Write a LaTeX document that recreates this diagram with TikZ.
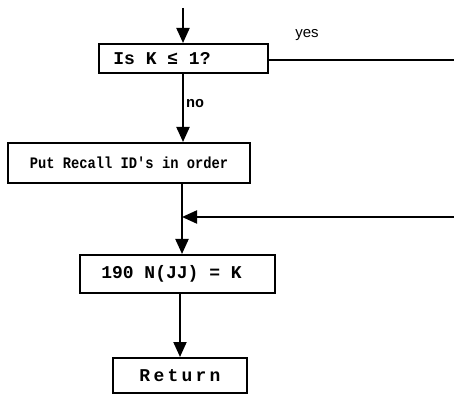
\documentclass[tikz,border=0pt]{standalone}
\usepackage{fontspec}
\usetikzlibrary{arrows.meta}
\newfontfamily\tw{Liberation Mono}[BoldFont={Liberation Mono Bold}]
\newfontfamily\lbl{Liberation Sans}
\newcommand{\twsize}[1]{\tw\bfseries\fontsize{#1}{#1}\selectfont}
\tikzset{
  proc/.style={draw, line width=2pt, inner ysep=0pt, minimum height=#1, text=black},
  flow/.style={line width=2pt, -{Triangle[width=13pt,length=15pt]}},
  link/.style={line width=2pt},
}
\begin{document}
\begin{tikzpicture}[x=1pt,y=1pt]
  \useasboundingbox (0,0) rectangle (454,396);
  \fill[white] (0,0) rectangle (454,396);

  % process boxes (a trailing kern pushes the typed text a little to the left)
  \node[proc=29pt, minimum width=169pt, font=\twsize{18}] (b1) at (183.5,337.5)
        {Is K ≤ 1?\kern43pt};
  \node[proc=40pt, minimum width=242pt,
        font={\twsize{16}\addfontfeature{FakeStretch=0.86}}] (b2) at (129,233) {Put Recall ID's in order};
  \node[proc=38pt, minimum width=195pt, font=\twsize{18}] (b3) at (177.5,122)
        {190 N(JJ) = K\kern12pt};
  \node[proc=35pt, minimum width=134pt,
        font={\twsize{18}\addfontfeature{LetterSpace=18}}] (b4) at (180,20.5) {Return};

  % helper points
  \coordinate (start) at (183,388);
  \coordinate (j) at (182,179);
  \coordinate (yesend) at (454,336);
  \coordinate (back) at (454,179);

  % connectors
  \draw[flow] (start) -- (start |- b1.north);
  \draw[flow] (start |- b1.south) -- (start |- b2.north);
  \draw[link] ([yshift=-1.5pt]b1.east) -- (yesend);
  \draw[flow] (j |- b2.south) -- (j |- b3.north);
  \draw[flow] (back) -- (j);
  \draw[flow] (b4.north |- b3.south) -- (b4.north);

  % branch labels
  \node[font=\lbl\fontsize{15}{15}\selectfont] (yes) at (307,361) {yes};
  \node[anchor=west, inner sep=0pt, font=\twsize{15}] (no) at (186,292) {no};
\end{tikzpicture}
\end{document}
